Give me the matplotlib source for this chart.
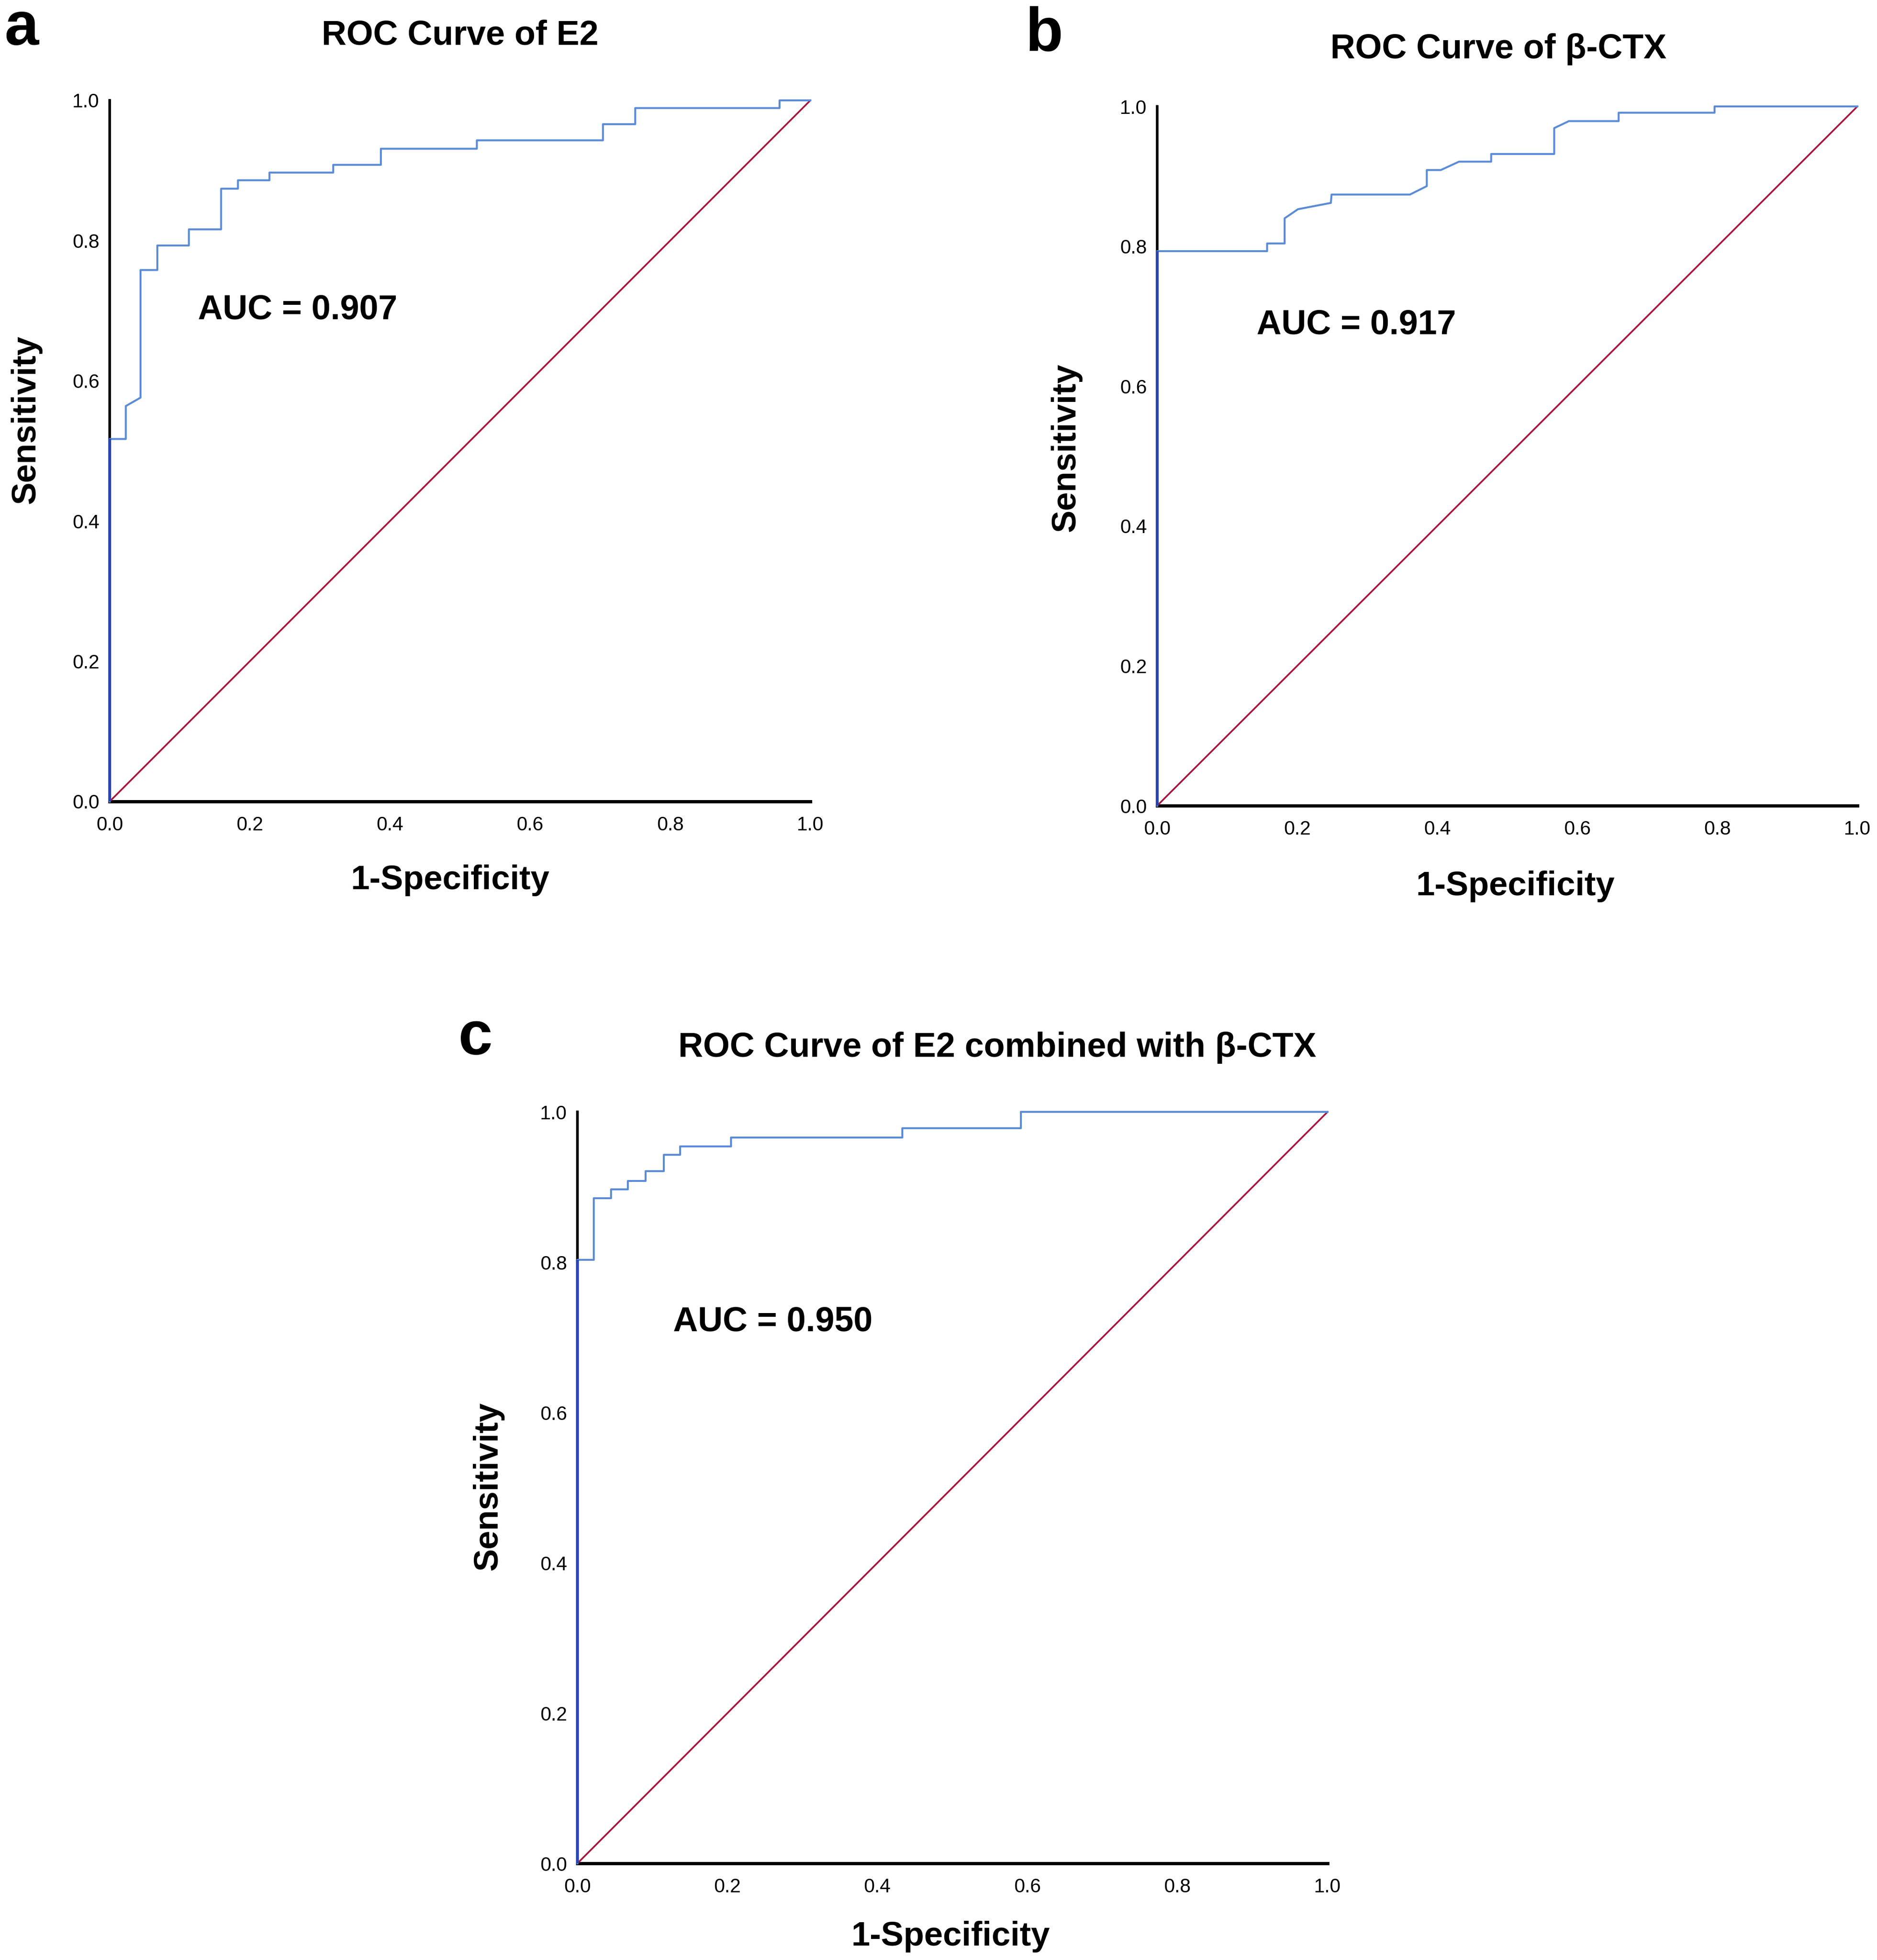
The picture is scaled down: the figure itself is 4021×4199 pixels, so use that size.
import matplotlib
matplotlib.use("Agg")
import matplotlib.pyplot as plt

plt.rcParams['font.family'] = ['Liberation Sans', 'DejaVu Sans']

W, H = 4021, 4199

# ROC curve points (1-specificity, sensitivity)
e2_fpr = [0, 0, 0.023, 0.023, 0.044, 0.044, 0.068, 0.068, 0.113, 0.113, 0.159, 0.159,
          0.183, 0.183, 0.228, 0.228, 0.319, 0.319, 0.387, 0.387, 0.524, 0.524,
          0.704, 0.704, 0.750, 0.750, 0.956, 0.956, 1.0]
e2_tpr = [0, 0.517, 0.517, 0.564, 0.576, 0.758, 0.758, 0.793, 0.793, 0.816, 0.816, 0.874,
          0.874, 0.886, 0.886, 0.897, 0.897, 0.908, 0.908, 0.931, 0.931, 0.943,
          0.943, 0.966, 0.966, 0.989, 0.989, 1.0, 1.0]

ctx_fpr = [0, 0, 0.157, 0.157, 0.182, 0.182, 0.201, 0.248, 0.249, 0.361, 0.385, 0.385,
           0.405, 0.431, 0.477, 0.477, 0.567, 0.567, 0.588, 0.659, 0.659, 0.796, 0.796, 1.0]
ctx_tpr = [0, 0.793, 0.793, 0.804, 0.804, 0.840, 0.853, 0.862, 0.874, 0.874, 0.886, 0.909,
           0.909, 0.921, 0.921, 0.932, 0.932, 0.969, 0.979, 0.979, 0.991, 0.991, 1.0, 1.0]

comb_fpr = [0, 0, 0.022, 0.022, 0.045, 0.045, 0.067, 0.067, 0.091, 0.091, 0.115, 0.115,
            0.137, 0.137, 0.205, 0.205, 0.433, 0.433, 0.591, 0.591, 1.0]
comb_tpr = [0, 0.803, 0.803, 0.885, 0.885, 0.897, 0.897, 0.908, 0.908, 0.921, 0.921, 0.943,
            0.943, 0.954, 0.954, 0.966, 0.966, 0.978, 0.978, 1.0, 1.0]

ticks = [0.0, 0.2, 0.4, 0.6, 0.8, 1.0]
tick_labels = ['0.0', '0.2', '0.4', '0.6', '0.8', '1.0']

panels = [
    # axes rect in px: (x0, y_top, x1, y_bottom)
    dict(letter='a', title='ROC Curve of E2', auc='AUC = 0.907', fpr=e2_fpr, tpr=e2_tpr,
         rect=(235, 215, 1736, 1717), letter_xy=(9, 96), title_xy=(986, 95),
         auc_xy=(424, 683), xlab_xy=(964, 1905), ylab_xy=(56, 898)),
    dict(letter='b', title='ROC Curve of \u03b2-CTX', auc='AUC = 0.917', fpr=ctx_fpr, tpr=ctx_tpr,
         rect=(2479, 228, 3979, 1726), letter_xy=(2196, 109), title_xy=(3210, 125),
         auc_xy=(2692, 715), xlab_xy=(3246, 1918), ylab_xy=(2284, 958)),
    dict(letter='c', title='ROC Curve of E2 combined with \u03b2-CTX', auc='AUC = 0.950',
         fpr=comb_fpr, tpr=comb_tpr,
         rect=(1237, 2382, 2844, 3992), letter_xy=(982, 2259), title_xy=(2136, 2264),
         auc_xy=(1442, 2852), xlab_xy=(2036, 4168), ylab_xy=(1046, 3183)),
]

curve_color = '#5b8bd6'
start_color = '#2b45b0'
diag_color = '#a8143c'


def fx(x):
    return x / W


def fy(y):
    return 1 - y / H


fig = plt.figure(figsize=(W / 100, H / 100), dpi=100, facecolor='white')

for p in panels:
    x0, yt, x1, yb = p['rect']
    ax = fig.add_axes([fx(x0), fy(yb), (x1 - x0) / W, (yb - yt) / H])
    ax.plot([0, 1], [0, 1], color=diag_color, lw=2.6, zorder=3, clip_on=False)
    ax.plot(p['fpr'], p['tpr'], color=curve_color, lw=3, zorder=4, clip_on=False)
    # the first (vertical) step sits on the y axis and hides it
    ax.plot(p['fpr'][:2], p['tpr'][:2], color=start_color, lw=4.5, zorder=5, clip_on=False,
            solid_capstyle='butt')
    ax.set_xlim(0, 1)
    ax.set_ylim(0, 1)
    ax.set_xticks(ticks)
    ax.set_xticklabels(tick_labels)
    ax.set_yticks(ticks)
    ax.set_yticklabels(tick_labels)
    ax.tick_params(axis='both', length=0, labelsize=30)
    ax.tick_params(axis='y', pad=16)
    ax.tick_params(axis='x', pad=22)
    ax.spines['top'].set_visible(False)
    ax.spines['right'].set_visible(False)
    ax.spines['left'].set_linewidth(4)
    ax.spines['bottom'].set_linewidth(5)

    fig.text(fx(p['letter_xy'][0]), fy(p['letter_xy'][1]), p['letter'], fontsize=95,
             fontweight='bold', ha='left', va='baseline')
    fig.text(fx(p['title_xy'][0]), fy(p['title_xy'][1]), p['title'], fontsize=53,
             fontweight='bold', ha='center', va='baseline')
    fig.text(fx(p['auc_xy'][0]), fy(p['auc_xy'][1]), p['auc'], fontsize=53,
             fontweight='bold', ha='left', va='baseline')
    fig.text(fx(p['xlab_xy'][0]), fy(p['xlab_xy'][1]), '1-Specificity', fontsize=52,
             fontweight='bold', ha='center', va='baseline')
    fig.text(fx(p['ylab_xy'][0]), fy(p['ylab_xy'][1]), 'Sensitivity', fontsize=52,
             fontweight='bold', ha='center', va='center', rotation=90)

fig.savefig('out.png', dpi=100, facecolor='white')
